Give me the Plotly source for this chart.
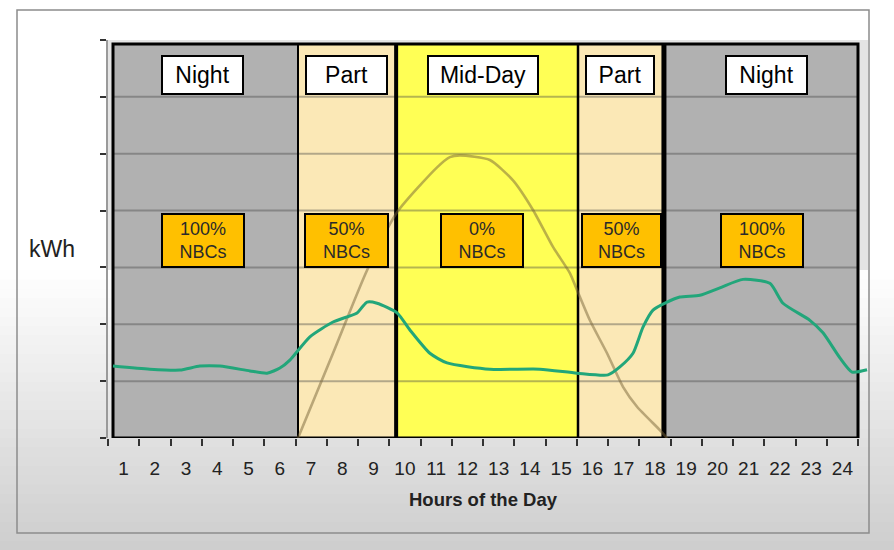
import plotly.graph_objects as go

# ---------------- data ----------------
hours = list(range(1, 25))
hour_labels = [str(h) for h in hours]

# consumption curve (green), hour position -> kWh (unitless scale 0..7)
use_x = [0.66, 1.84, 2.80, 3.44, 4.08, 5.04, 5.59, 6.00, 6.32, 6.96, 7.70, 8.47, 8.63, 8.79,
         9.11, 9.75, 10.16, 10.80, 11.35, 12.72, 14.32, 15.51, 16.50, 16.88, 17.30, 17.62,
         17.94, 18.39, 18.80, 19.44, 20.08, 20.82, 21.68, 22.10, 22.96, 23.38, 23.92, 24.31, 24.79]
use_y = [1.265, 1.21, 1.195, 1.265, 1.265, 1.18, 1.14, 1.23, 1.37, 1.78, 2.04, 2.20, 2.30, 2.39,
         2.37, 2.20, 1.90, 1.49, 1.32, 1.21, 1.21, 1.14, 1.11, 1.25, 1.49, 1.95,
         2.25, 2.39, 2.48, 2.51, 2.64, 2.79, 2.72, 2.37, 2.07, 1.85, 1.41, 1.16, 1.20]

# solar production curve (tan / olive)
sun_x = [6.58, 7.70, 8.79, 9.75, 11.03, 11.44, 11.76, 12.72, 13.46, 14.10, 14.74, 15.28,
         15.51, 15.92, 16.47, 16.98, 17.43, 18.16, 18.39]
sun_y = [0.0, 1.49, 2.95, 3.97, 4.76, 4.94, 4.97, 4.89, 4.53, 4.01, 3.36, 2.90,
         2.60, 2.07, 1.49, 0.90, 0.55, 0.14, 0.0]

# zones
zone_bounds = [0.66, 6.58, 9.72, 15.54, 18.29, 24.5]
zone_names = ["Night", "Part", "Mid-Day", "Part", "Night"]
zone_nbc = ["100%<br>NBCs", "50%<br>NBCs", "0%<br>NBCs", "50%<br>NBCs", "100%<br>NBCs"]
zone_colors = ["#b1b1b1", "#fbe8b6", "#ffff55", "#fbe8b6", "#b1b1b1"]
name_x = [3.51, 8.12, 12.5, 16.88, 21.56]
nbc_x = [3.54, 8.12, 12.47, 16.92, 21.43]
name_w = [79, 79, 108, 66, 79]
nbc_w = [80, 81, 80, 77, 80]
divider_w = [2, 4, 2.5, 5]

FONT = "Liberation Sans, Arial, sans-serif"

fig = go.Figure()

fig.add_trace(go.Scatter(x=sun_x, y=sun_y, mode="lines",
                         line=dict(color="rgba(120,100,55,0.5)", width=2.6, shape="spline", smoothing=0.6),
                         hoverinfo="skip", showlegend=False))
fig.add_trace(go.Scatter(x=use_x, y=use_y, mode="lines",
                         line=dict(color="#22a67a", width=3, shape="spline", smoothing=0.6),
                         hoverinfo="skip", showlegend=False))

shapes = []
# background gradient of the slide (pixel -> paper)
W, H = 894, 550
L, R, T, B = 108, 26, 40, 112
pw, ph = W - L - R, H - T - B
def px_x(p):
    return (p - L) / pw
def px_y(p):
    return (H - B - p) / ph

nb = 30
y_start = 270
for i in range(nb):
    p0 = y_start + (H - y_start) * i / nb
    p1 = y_start + (H - y_start) * (i + 1) / nb + 1
    g = int(round(255 - 50 * ((i + 0.5) / nb)))
    shapes.append(dict(type="rect", xref="paper", yref="paper", layer="below",
                       x0=px_x(0), x1=px_x(W), y0=px_y(p1), y1=px_y(p0),
                       fillcolor=f"rgb({g},{g},{g})", line=dict(width=0)))
# outer frame of the chart
shapes.append(dict(type="rect", xref="paper", yref="paper", layer="below",
                   x0=px_x(17), x1=px_x(869), y0=px_y(533), y1=px_y(10),
                   fillcolor="rgba(0,0,0,0)", line=dict(color="#8c8c8c", width=1.5)))

top = 6.93
# zone panels
for i in range(5):
    shapes.append(dict(type="rect", xref="x", yref="y", layer="below",
                       x0=zone_bounds[i], x1=zone_bounds[i + 1], y0=0, y1=top,
                       fillcolor=zone_colors[i], line=dict(width=0)))
# grid lines
for v in range(1, 7):
    shapes.append(dict(type="line", xref="x", yref="y", layer="below",
                       x0=zone_bounds[0], x1=zone_bounds[-1], y0=v, y1=v,
                       line=dict(color="rgba(70,70,70,0.4)", width=2)))
# panel frame and dividers
shapes.append(dict(type="rect", xref="x", yref="y", layer="below",
                   x0=zone_bounds[0], x1=zone_bounds[-1], y0=0, y1=top,
                   fillcolor="rgba(0,0,0,0)", line=dict(color="black", width=3)))
for i, w in enumerate(divider_w):
    shapes.append(dict(type="line", xref="x", yref="y", layer="below",
                       x0=zone_bounds[i + 1], x1=zone_bounds[i + 1], y0=0, y1=top,
                       line=dict(color="black", width=w)))

annotations = []
for i in range(5):
    annotations.append(dict(x=name_x[i], y=6.38, xref="x", yref="y", text=zone_names[i],
                            showarrow=False, font=dict(family=FONT, size=23, color="black"),
                            bgcolor="white", bordercolor="black", borderwidth=2, borderpad=0,
                            width=name_w[i], height=36, align="center", valign="middle"))
    annotations.append(dict(x=nbc_x[i], y=3.48, xref="x", yref="y", text=zone_nbc[i],
                            showarrow=False, font=dict(family=FONT, size=18, color="#2a2a2a"),
                            bgcolor="#ffc000", bordercolor="black", borderwidth=2, borderpad=0,
                            width=nbc_w[i], height=51, align="center", valign="middle"))
annotations.append(dict(x=px_x(52), y=px_y(249), xref="paper", yref="paper", text="kWh",
                        showarrow=False, font=dict(family=FONT, size=23, color="#222"),
                        xanchor="center", yanchor="middle"))
annotations.append(dict(x=px_x(483), y=px_y(500), xref="paper", yref="paper",
                        text="<b>Hours of the Day</b>",
                        showarrow=False, font=dict(family=FONT, size=18.5, color="#222"),
                        xanchor="center", yanchor="middle"))

fig.update_layout(
    width=W, height=H,
    margin=dict(l=L, r=R, t=T, b=B, pad=0),
    paper_bgcolor="white",
    plot_bgcolor="#e4e4e4",
    shapes=shapes,
    annotations=annotations,
    showlegend=False,
    font=dict(family=FONT),
    xaxis=dict(range=[0.5, 24.5 + 0.32], tickmode="array", tickvals=hours, ticktext=hour_labels,
               ticks="", showgrid=False, zeroline=False, showline=False,
               tickfont=dict(family=FONT, size=19, color="#222"), ticklabelstandoff=17,
               minor=dict(ticks="outside", tick0=0.5, dtick=1, ticklen=7, tickcolor="#333",
                          tickwidth=1.5, showgrid=False)),
    yaxis=dict(range=[0, 7], tickmode="array", tickvals=list(range(0, 8)), showticklabels=False,
               ticks="outside", ticklen=6, tickcolor="#333", tickwidth=1.5,
               showgrid=False, zeroline=False, showline=True, linecolor="#9a9a9a", linewidth=2),
)

fig.write_html("out.html", config={"displayModeBar": False},
               post_script="document.body.style.margin='0';document.body.style.padding='0';")
